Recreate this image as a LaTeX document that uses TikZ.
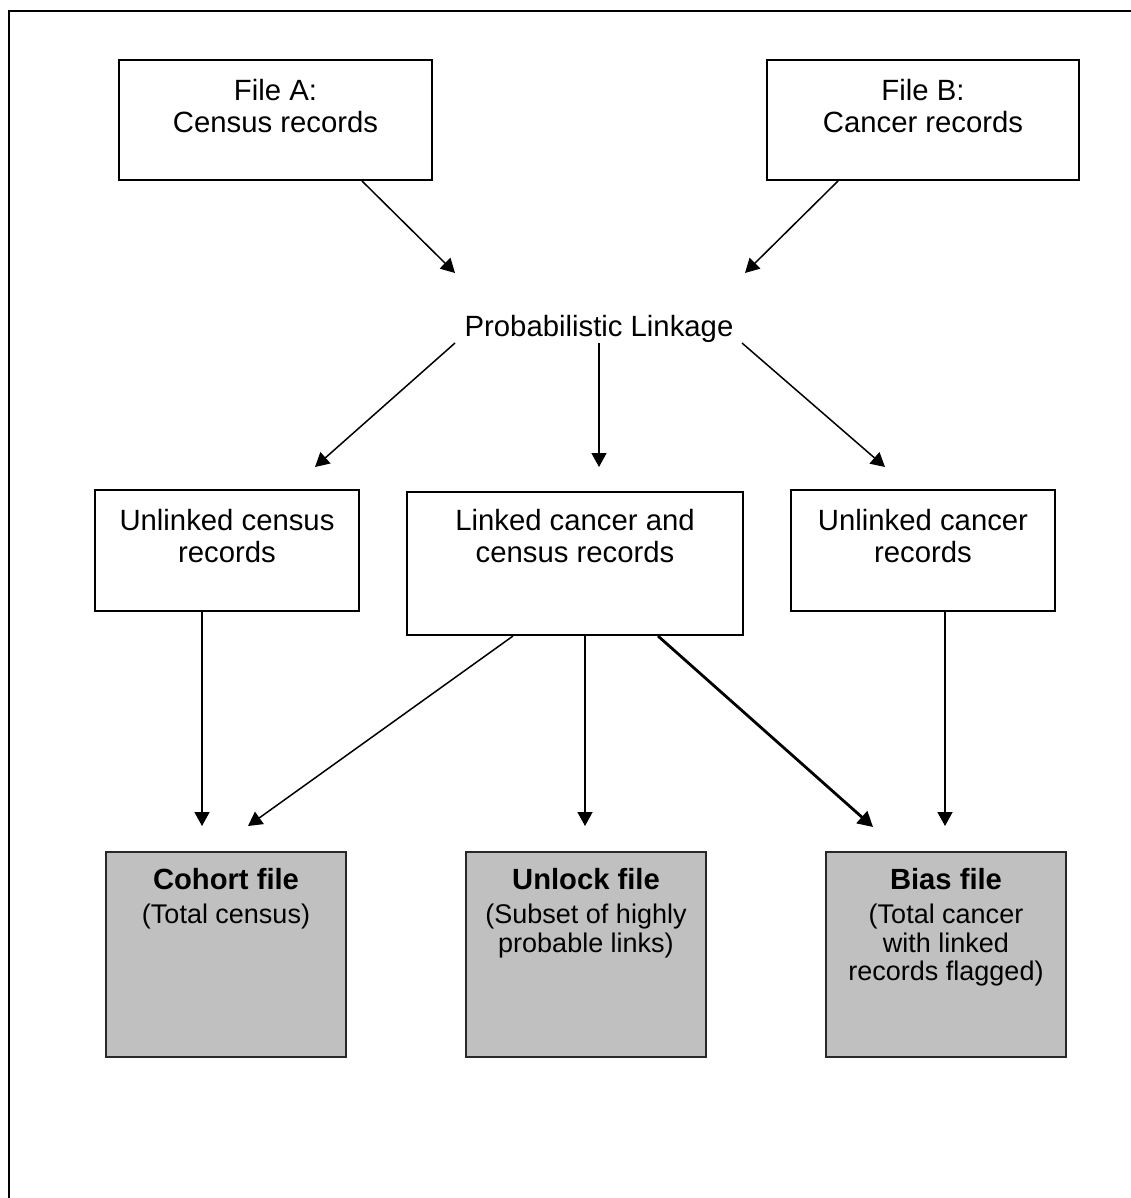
\documentclass[tikz,border=0pt]{standalone}
\usepackage{fontspec}
\setmainfont{Liberation Sans}
\usetikzlibrary{arrows.meta}
\definecolor{boxgray}{RGB}{192,192,192}
\definecolor{boxedge}{RGB}{40,40,40}
\begin{document}
\begin{tikzpicture}[x=1pt,y=-1pt,
  whitebox/.style={draw=black, line width=2.4pt, fill=white},
  graybox/.style={draw=boxedge, line width=1.8pt, fill=boxgray},
  maintxt/.style={inner sep=0pt, anchor=base, font=\fontsize{29.3}{32}\selectfont},
  titletxt/.style={inner sep=0pt, anchor=base, font=\fontsize{29.2}{32}\selectfont\bfseries},
  subtxt/.style={inner sep=0pt, anchor=base, font=\fontsize{27}{29}\selectfont},
  conn/.style={line width=1.5pt, -{Triangle[length=14pt,width=15pt]}},
  thickconn/.style={line width=2.8pt, -{Triangle[length=15pt,width=16pt]}}
]
\useasboundingbox (0,0) rectangle (1131,1198);
% frame (clipped at right and bottom)
\draw[line width=2.6pt] (9,1210) -- (9,11) -- (1140,11);

% top boxes
\draw[whitebox] (119,60) rectangle (432,180);
\draw[whitebox] (767,60) rectangle (1079,180);
% second row boxes
\draw[whitebox] (95,490) rectangle (359,611);
\draw[whitebox] (407,492) rectangle (743,635);
\draw[whitebox] (791,490) rectangle (1055,611);
% bottom boxes
\draw[graybox] (106,852) rectangle (346,1057);
\draw[graybox] (466,852) rectangle (706,1057);
\draw[graybox] (826,852) rectangle (1066,1057);

% texts
\node[maintxt] (a1) at (275.5,101) {File A:};
\node[maintxt] (a2) at (275.5,133) {Census records};
\node[maintxt] (b1) at (923,101) {File B:};
\node[maintxt] (b2) at (923,133) {Cancer records};
\node[maintxt] (pl) at (599,336) {Probabilistic Linkage};
\node[maintxt] (uc1) at (227,530) {Unlinked census};
\node[maintxt] (uc2) at (227,562) {records};
\node[maintxt] (lk1) at (575,530) {Linked cancer and};
\node[maintxt] (lk2) at (575,562) {census records};
\node[maintxt] (uk1) at (923,530) {Unlinked cancer};
\node[maintxt] (uk2) at (923,562) {records};
\node[titletxt] (co1) at (226,889) {Cohort file};
\node[subtxt] (co2) at (226,923) {(Total census)};
\node[titletxt] (un1) at (586,889) {Unlock file};
\node[subtxt] (un2) at (586,923) {(Subset of highly};
\node[subtxt] (un3) at (586,952) {probable links)};
\node[titletxt] (bi1) at (946,889) {Bias file};
\node[subtxt] (bi2) at (946,923) {(Total cancer};
\node[subtxt] (bi3) at (946,952) {with linked};
\node[subtxt] (bi4) at (946,980) {records flagged)};

% connector end points
\coordinate (sA) at (362,181);
\coordinate (eA) at (455,273);
\coordinate (sB) at (838,181);
\coordinate (eB) at (745,273);
\coordinate (sP1) at (455,343);
\coordinate (eP1) at (315,467);
\coordinate (sP2) at (599,343);
\coordinate (eP2) at (599,467);
\coordinate (sP3) at (742,343);
\coordinate (eP3) at (885,467);
\coordinate (sU) at (202,612);
\coordinate (eU) at (202,826);
\coordinate (sL1) at (513,636);
\coordinate (eL1) at (248,826);
\coordinate (sL2) at (585,636);
\coordinate (eL2) at (585,826);
\coordinate (sL3) at (658,636);
\coordinate (eL3) at (873,827);
\coordinate (sK) at (945,612);
\coordinate (eK) at (945,826);

\draw[conn] (sA) -- (eA);
\draw[conn] (sB) -- (eB);
\draw[conn] (sP1) -- (eP1);
\draw[conn] (sP2) -- (eP2);
\draw[conn] (sP3) -- (eP3);
\draw[conn] (sU) -- (eU);
\draw[conn] (sL1) -- (eL1);
\draw[conn] (sL2) -- (eL2);
\draw[thickconn] (sL3) -- (eL3);
\draw[conn] (sK) -- (eK);
\end{tikzpicture}
\end{document}
